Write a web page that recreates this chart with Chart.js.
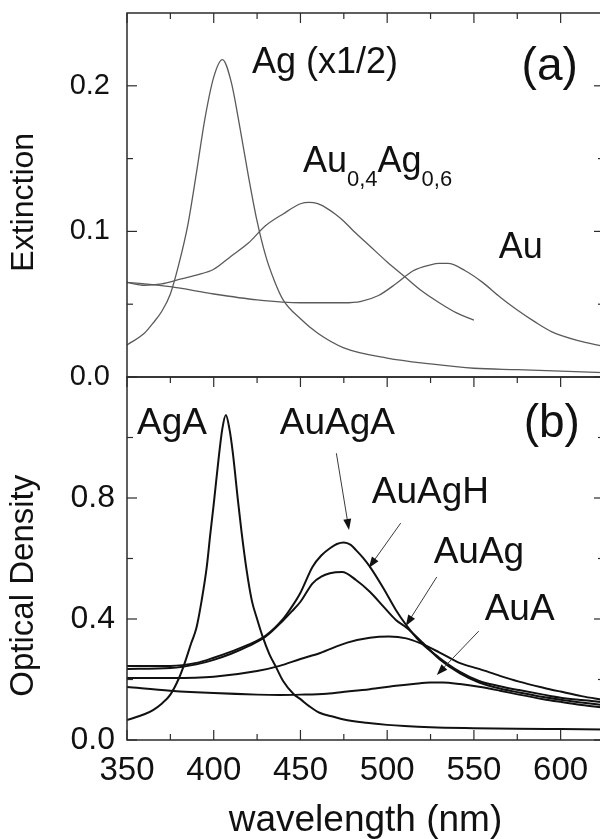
<!DOCTYPE html>
<html>
<head>
<meta charset="utf-8">
<script src="https://cdn.jsdelivr.net/npm/chart.js@4.4.1/dist/chart.umd.min.js"></script>
<style>
  html, body { margin: 0; padding: 0; background: #fff; width: 600px; height: 839px; overflow: hidden; }
  #wrap { position: relative; width: 600px; height: 839px; overflow: hidden; }
  canvas { position: absolute; left: 0; }
  #top { top: 0; }
  #bot { top: 360px; }
</style>
</head>
<body>
<div id="wrap">
  <canvas id="top" width="610" height="400"></canvas>
  <canvas id="bot" width="610" height="479"></canvas>
</div>
<script>
// ---------- axis ticks ----------
const xTickLabels = [350, 400, 450, 500, 550, 600];
const xMinorTicks = [375, 425, 475, 525, 575];
const topYTickLabels = [0, 0.1, 0.2];
const topYMinorTicks = [0.05, 0.15];
const botYTickLabels = [0, 0.4, 0.8];
const botYMinorTicks = [0.2, 0.6, 1.0];

// ---------- panel (a): Extinction ----------
const wlAg = [350,360,365,370,375,380,385,390,395,400,405,410,415,420,425,430,435,440,450,460,475,500,525,550,575,600,625];
const extAg = [0.022,0.030,0.037,0.045,0.057,0.078,0.104,0.140,0.178,0.206,0.218,0.203,0.172,0.138,0.107,0.083,0.066,0.053,0.040,0.030,0.020,0.013,0.009,0.006,0.005,0.004,0.003];

const wlAuAg = [350,360,370,380,390,400,410,420,430,440,450,455,460,465,470,475,480,490,500,510,520,530,540,550];
const extAuAg = [0.065,0.063,0.064,0.067,0.070,0.074,0.083,0.092,0.104,0.112,0.119,0.120,0.119,0.116,0.112,0.107,0.101,0.090,0.079,0.069,0.059,0.051,0.044,0.039];

const wlAu = [350,360,375,400,425,450,475,485,495,505,515,525,530,535,545,555,565,575,585,595,610,625];
const extAu = [0.065,0.064,0.062,0.057,0.053,0.051,0.051,0.052,0.056,0.064,0.073,0.077,0.078,0.078,0.073,0.065,0.055,0.046,0.038,0.031,0.025,0.021];

// ---------- panel (b): Optical Density ----------
const wlAgA = [350,360,365,370,375,380,383,387,390,393,396,398,400,403,405,407,409,411,414,416,419,422,425,428,432,436,440,446,450,455,461,469,475,488,500,510,525,550,575,600,625];
const odAgA = [0.066,0.085,0.099,0.12,0.15,0.205,0.25,0.32,0.37,0.46,0.573,0.68,0.78,0.94,1.03,1.074,1.03,0.95,0.79,0.69,0.56,0.46,0.40,0.345,0.285,0.24,0.195,0.152,0.135,0.112,0.09,0.077,0.068,0.057,0.050,0.046,0.042,0.039,0.037,0.036,0.035];

const wlAuAgA = [350,375,390,400,410,420,430,440,445,450,457,462,467,471,475,479,482,486,490,498,505,511,519,530,542,553,565,576,590,600,612,625];
const odAuAgA = [0.245,0.245,0.255,0.272,0.292,0.315,0.345,0.40,0.44,0.487,0.573,0.61,0.634,0.648,0.653,0.645,0.628,0.603,0.573,0.50,0.43,0.38,0.325,0.272,0.225,0.195,0.178,0.165,0.150,0.140,0.132,0.125];

const wlAuAgH = [350,375,390,400,410,420,430,440,445,450,457,462,467,474,482,490,498,505,511,519,530,542,553,565,576,590,600,612,625];
const odAuAgH = [0.235,0.238,0.25,0.265,0.285,0.31,0.342,0.395,0.425,0.457,0.518,0.54,0.551,0.555,0.529,0.49,0.44,0.397,0.372,0.33,0.268,0.22,0.19,0.17,0.157,0.142,0.133,0.124,0.115];

const wlAuAg2 = [350,375,400,425,438,450,461,477,490,501,511,519,530,542,553,565,576,590,600,612,625];
const odAuAg = [0.205,0.205,0.209,0.228,0.245,0.268,0.287,0.322,0.338,0.342,0.336,0.32,0.29,0.254,0.235,0.212,0.193,0.173,0.16,0.145,0.132];

const wlAuA = [350,375,400,425,438,450,465,477,490,505,515,525,532,542,553,565,576,590,600,612,625];
const odAuA = [0.175,0.163,0.155,0.150,0.149,0.150,0.153,0.16,0.168,0.179,0.185,0.19,0.19,0.185,0.176,0.163,0.150,0.135,0.126,0.116,0.107];

// ---------- helpers ----------
const FONT = '"Liberation Sans", Arial, Helvetica, sans-serif';
Chart.defaults.font.family = FONT;
Chart.defaults.color = '#111';

function pts(xs, ys) { return xs.map((x, i) => ({ x: x, y: ys[i] })); }

function lineDs(label, xs, ys, color, width) {
  return {
    label: label,
    data: pts(xs, ys),
    borderColor: color,
    borderWidth: width,
    pointRadius: 0,
    fill: false,
    tension: 0.4,
    cubicInterpolationMode: 'monotone'
  };
}

function noPad(s) { s.paddingTop = 0; s.paddingBottom = 0; s.paddingLeft = 0; s.paddingRight = 0; }

// panel decorations: frame, inward ticks, annotations, y title
function panelPlugin(spec) {
  return {
    id: 'panel_' + spec.name,
    afterDatasetsDraw(chart) {
      const { ctx, chartArea: a } = chart;
      const xs = chart.scales.x, ys = chart.scales.y;
      ctx.save();
      ctx.strokeStyle = '#2b2b2b';
      ctx.lineWidth = 1.5;
      ctx.strokeRect(a.left, a.top, a.right - a.left, a.bottom - a.top);
      ctx.lineWidth = 1.2;
      const seg = (x1, y1, x2, y2) => { ctx.beginPath(); ctx.moveTo(x1, y1); ctx.lineTo(x2, y2); ctx.stroke(); };
      const xTick = (v, len) => {
        const x = xs.getPixelForValue(v);
        if (spec.xTop) seg(x, a.top, x, a.top + len);
        if (spec.xBottom) seg(x, a.bottom, x, a.bottom - len);
      };
      xTickLabels.forEach(v => xTick(v, 10));
      xMinorTicks.forEach(v => xTick(v, 6));
      const yTick = (v, len) => {
        const y = ys.getPixelForValue(v);
        seg(a.left, y, a.left + len, y);
        seg(a.right, y, a.right - len, y);
      };
      spec.yMajor.forEach(v => yTick(v, 10));
      spec.yMinor.forEach(v => yTick(v, 6));

      // arrows
      (spec.arrows || []).forEach(ar => {
        const x1 = xs.getPixelForValue(ar.from[0]), y1 = ys.getPixelForValue(ar.from[1]);
        const x2 = xs.getPixelForValue(ar.to[0]), y2 = ys.getPixelForValue(ar.to[1]);
        const ang = Math.atan2(y2 - y1, x2 - x1);
        const hl = 11, hw = 4;
        ctx.strokeStyle = '#3a3a3a';
        ctx.lineWidth = 1;
        seg(x1, y1, x2 - Math.cos(ang) * hl * 0.8, y2 - Math.sin(ang) * hl * 0.8);
        ctx.fillStyle = '#111';
        ctx.beginPath();
        ctx.moveTo(x2, y2);
        ctx.lineTo(x2 - Math.cos(ang) * hl - Math.sin(ang) * hw, y2 - Math.sin(ang) * hl + Math.cos(ang) * hw);
        ctx.lineTo(x2 - Math.cos(ang) * hl + Math.sin(ang) * hw, y2 - Math.sin(ang) * hl - Math.cos(ang) * hw);
        ctx.closePath();
        ctx.fill();
      });

      // text annotations (pieces allow subscripts)
      ctx.fillStyle = '#111';
      ctx.textBaseline = 'alphabetic';
      ctx.textAlign = 'left';
      (spec.texts || []).forEach(t => {
        let x = xs.getPixelForValue(t.at[0]);
        const y = ys.getPixelForValue(t.at[1]);
        t.parts.forEach(p => {
          ctx.font = p.size + 'px ' + FONT;
          ctx.fillText(p.s, x, y + (p.dy || 0));
          x += ctx.measureText(p.s).width;
        });
      });

      // y-axis title
      ctx.font = spec.yTitle.size + 'px ' + FONT;
      ctx.textAlign = 'center';
      ctx.textBaseline = 'middle';
      ctx.translate(spec.yTitle.x, ys.getPixelForValue(spec.yTitle.v));
      ctx.rotate(-Math.PI / 2);
      ctx.fillText(spec.yTitle.text, 0, 0);
      ctx.restore();
    }
  };
}

function yScale(min, max, labels, fontSize, pad) {
  return {
    type: 'linear',
    min: min, max: max,
    afterFit: s => { s.width = 127; noPad(s); },
    afterBuildTicks: s => { s.ticks = labels.map(v => ({ value: v })); },
    grid: { display: false, drawTicks: false },
    border: { display: false },
    ticks: { callback: v => Number(v).toFixed(1), font: { size: fontSize }, color: '#111', padding: pad }
  };
}

// ---------- panel (a) ----------
new Chart(document.getElementById('top'), {
  type: 'line',
  data: {
    datasets: [
      lineDs('Ag (x1/2)', wlAg, extAg, '#5a5a5a', 1.3),
      lineDs('Au0.4Ag0.6', wlAuAg, extAuAg, '#5a5a5a', 1.3),
      lineDs('Au', wlAu, extAu, '#5a5a5a', 1.3)
    ]
  },
  options: {
    responsive: false,
    animation: false,
    layout: { padding: { left: 0, right: 6, top: 13, bottom: 23 } },
    plugins: { legend: { display: false }, tooltip: { enabled: false } },
    scales: {
      x: { type: 'linear', min: 350, max: 625, display: false },
      y: yScale(0, 0.25, topYTickLabels, 29, 17)
    }
  },
  plugins: [panelPlugin({
    name: 'a', xTop: true, xBottom: false,
    yMajor: topYTickLabels, yMinor: topYMinorTicks,
    yTitle: { text: 'Extinction', size: 32, x: 24, v: 0.12 },
    texts: [
      { at: [422.0, 0.2088], parts: [{ s: 'Ag (x1/2)', size: 36 }] },
      { at: [451.4, 0.1408], parts: [
        { s: 'Au', size: 36 }, { s: '0,4', size: 22, dy: 14 },
        { s: 'Ag', size: 36 }, { s: '0,6', size: 22, dy: 14 } ] },
      { at: [564.3, 0.0817], parts: [{ s: 'Au', size: 36 }] },
      { at: [577.5, 0.204], parts: [{ s: '(a)', size: 46 }] }
    ]
  })]
});

// ---------- panel (b) ----------
new Chart(document.getElementById('bot'), {
  type: 'line',
  data: {
    datasets: [
      lineDs('AgA', wlAgA, odAgA, '#111', 2),
      lineDs('AuAgA', wlAuAgA, odAuAgA, '#111', 2),
      lineDs('AuAgH', wlAuAgH, odAuAgH, '#111', 2),
      lineDs('AuAg', wlAuAg2, odAuAg, '#111', 2),
      lineDs('AuA', wlAuA, odAuA, '#111', 2)
    ]
  },
  options: {
    responsive: false,
    animation: false,
    layout: { padding: { left: 0, right: 6, top: 17, bottom: 0 } },
    plugins: { legend: { display: false }, tooltip: { enabled: false } },
    scales: {
      x: {
        type: 'linear', min: 350, max: 625,
        afterFit: s => { s.height = 99; noPad(s); },
        afterBuildTicks: s => { s.ticks = xTickLabels.map(v => ({ value: v })); },
        grid: { display: false, drawTicks: false },
        border: { display: false },
        ticks: { font: { size: 33 }, color: '#111', padding: 11, autoSkip: false, maxRotation: 0, callback: v => String(v) },
        title: { display: true, text: 'wavelength (nm)', font: { size: 37, lineHeight: 1 }, color: '#111', padding: { top: 0, bottom: 0 } }
      },
      y: yScale(0, 1.2, botYTickLabels, 32, 12)
    }
  },
  plugins: [panelPlugin({
    name: 'b', xTop: true, xBottom: true,
    yMajor: botYTickLabels, yMinor: botYMinorTicks,
    yTitle: { text: 'Optical Density', size: 33, x: 24, v: 0.51 },
    arrows: [
      { from: [470.7, 0.948], to: [478.0, 0.694] },
      { from: [507.8, 0.717], to: [489.4, 0.569] },
      { from: [528.6, 0.539], to: [510.7, 0.377] },
      { from: [552.8, 0.360], to: [528.6, 0.215] }
    ],
    texts: [
      { at: [355.8, 1.0116], parts: [{ s: 'AgA', size: 37 }] },
      { at: [438.1, 1.0116], parts: [{ s: 'AuAgA', size: 37 }] },
      { at: [491.1, 0.7835], parts: [{ s: 'AuAgH', size: 37 }] },
      { at: [526.8, 0.585], parts: [{ s: 'AuAg', size: 37 }] },
      { at: [556.2, 0.3967], parts: [{ s: 'AuA', size: 37 }] },
      { at: [578.7, 1.0017], parts: [{ s: '(b)', size: 46 }] }
    ]
  })]
});
</script>
</body>
</html>
